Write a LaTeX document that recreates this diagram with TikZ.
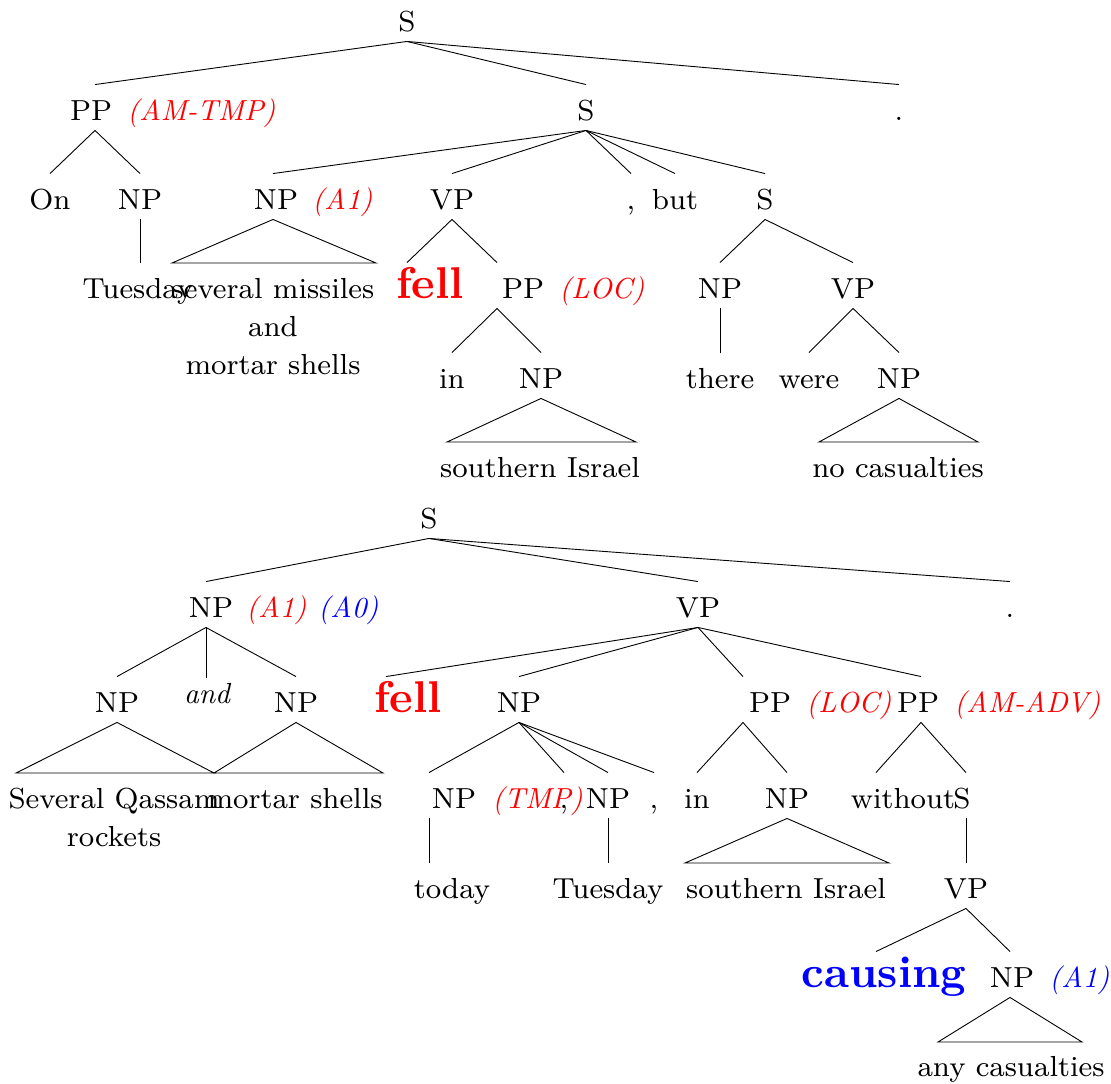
\documentclass[tikz,border=0pt]{standalone}
\usepackage{xcolor}
\usepackage{fontspec}
\setmainfont{lmroman8-regular.otf}[BoldFont=lmroman10-bold.otf,ItalicFont=lmroman10-italic.otf,BoldItalicFont=lmroman10-bolditalic.otf]
\newcommand\sh[2]{\makebox[0pt]{\hspace*{#1}\hspace*{#1}#2}}
\begin{document}
\begin{tikzpicture}[x=1pt,y=-1pt,line width=0.9pt,font=\fontsize{29}{38}\selectfont,
 tn/.style={anchor=base,inner sep=0pt,text height=35pt,text depth=10pt},
 lf/.style={anchor=base,inner sep=0pt},
 lab/.style={anchor=base west,inner sep=0pt,font=\fontsize{29}{38}\selectfont\itshape},
 big/.style={font=\fontsize{44.5}{50}\selectfont\bfseries}]
\useasboundingbox (0,0) rectangle (1111,1084);
% ---------- top tree ----------
\node[tn] (tS) at (407,31) {S};
\node[tn] (tPP) at (95,120) {\sh{-4pt}{PP}};
\node[lab,text=red] (tPPl) at (127,120) {(AM-TMP)};
\node[tn] (tS2) at (586,120) {S};
\node[tn] (tdot) at (899,120) {.};
\node[tn] (tOn) at (50,209) {On};
\node[tn] (tNPa) at (140,209) {NP};
\node[tn] (tTue) at (140,298) {\sh{-2pt}{Tuesday}};
\node[tn] (tNP1) at (273,209) {\sh{3pt}{NP}};
\node[lab,text=red] (tNP1l) at (312,209) {(A1)};
\node[lf] (tSM) at (273,298) {\begin{tabular}[t]{@{}c@{}}several missiles\\and\\mortar shells\end{tabular}};
\node[tn] (tVP) at (452,209) {VP};
\node[tn,big,text=red] (tfell) at (407,298) {\sh{23pt}{fell}};
\node[tn] (tPPb) at (497,298) {\sh{26pt}{PP}};
\node[lab,text=red] (tPPbl) at (559,298) {(LOC)};
\node[tn] (tin) at (452,388) {in};
\node[tn] (tNPb) at (541,388) {NP};
\node[lf] (tSI) at (540,477) {southern Israel};
\node[tn] (tcomma) at (631,209) {,};
\node[tn] (tbut) at (675,209) {but};
\node[tn] (tS3) at (765,209) {S};
\node[tn] (tNPc) at (720,298) {NP};
\node[tn] (tthere) at (720,388) {there};
\node[tn] (tVP2) at (853,298) {VP};
\node[tn] (twere) at (809,388) {were};
\node[tn] (tNPd) at (899,388) {NP};
\node[lf] (tNC) at (898,477) {no casualties};
\coordinate (tSMl) at (172,263); \coordinate (tSMr) at (376,263);
\coordinate (tSIl) at (447,442); \coordinate (tSIr) at (636,442);
\coordinate (tNCl) at (819,442); \coordinate (tNCr) at (978,442);
\foreach \a/\b in {tS/tPP,tS/tS2,tS/tdot,tPP/tOn,tPP/tNPa,tNPa/tTue,
  tS2/tNP1,tS2/tVP,tS2/tcomma,tS2/tbut,tS2/tS3,tVP/tfell,tVP/tPPb,
  tPPb/tin,tPPb/tNPb,tS3/tNPc,tS3/tVP2,tNPc/tthere,tVP2/twere,tVP2/tNPd}
  \draw (\a.south) -- (\b.north);
\draw (tNP1.south) -- (tSMl) -- (tSMr) -- cycle;
\draw (tNPb.south) -- (tSIl) -- (tSIr) -- cycle;
\draw (tNPd.south) -- (tNCl) -- (tNCr) -- cycle;
% ---------- bottom tree ----------
\node[tn] (bS) at (429,528) {S};
\node[tn] (bNP) at (206,617) {\sh{5pt}{NP}};
\node[lab,text=red] (bNPl1) at (246,617) {(A1)};
\node[lab,text=blue] (bNPl2) at (318,617) {(A0)};
\node[tn] (bVP) at (698,617) {VP};
\node[tn] (bdot) at (1010,617) {.};
\node[tn] (bNPa) at (117,712) {NP};
\node[tn,text height=25pt,font=\fontsize{29}{38}\selectfont\itshape] (band) at (206,703) {\sh{1pt}{and}};
\node[tn] (bNPb) at (296,712) {NP};
\node[lf] (bSQ) at (114,808) {\begin{tabular}[t]{@{}c@{}}Several Qassam\\rockets\end{tabular}};
\node[lf] (bMS) at (295,808) {mortar shells};
\node[tn,big,text=red] (bfell) at (386,712) {\sh{22pt}{fell}};
\node[tn] (bNPc) at (519,712) {NP};
\node[tn] (bNPt) at (429,808) {\sh{25pt}{NP}};
\node[lab,text=red] (bNPtl) at (492,808) {(TMP)};
\node[tn] (bcomma1) at (564,808) {,};
\node[tn] (bNPu) at (608,808) {NP};
\node[tn] (bcomma2) at (654,808) {,};
\node[tn] (btoday) at (429,898) {\sh{23pt}{today}};
\node[tn] (bTue) at (608,898) {Tuesday};
\node[tn] (bPPa) at (743,712) {\sh{27pt}{PP}};
\node[lab,text=red] (bPPal) at (806,712) {(LOC)};
\node[tn] (bPPb) at (921,712) {\sh{-3pt}{PP}};
\node[lab,text=red] (bPPbl) at (954,712) {(AM-ADV)};
\node[tn] (bin) at (697,808) {in};
\node[tn] (bNPd) at (787,808) {NP};
\node[lf] (bSI) at (786,898) {southern Israel};
\node[tn] (bwithout) at (876,808) {\sh{27pt}{without}};
\node[tn] (bS2) at (966,808) {\sh{-4pt}{S}};
\node[tn] (bVP2) at (966,898) {VP};
\node[tn,big,text=blue] (bcausing) at (876,987) {\sh{8pt}{causing}};
\node[tn] (bNPe) at (1010,987) {\sh{2pt}{NP}};
\node[lab,text=blue] (bNPel) at (1049,987) {(A1)};
\node[lf] (bAC) at (1011,1076) {any casualties};
\coordinate (bSQl) at (16,773); \coordinate (bSQr) at (214,773);
\coordinate (bMSl) at (214,773); \coordinate (bMSr) at (383,773);
\coordinate (bSIl) at (685,863); \coordinate (bSIr) at (889,863);
\coordinate (bACl) at (938,1042); \coordinate (bACr) at (1082,1042);
\foreach \a/\b in {bS/bNP,bS/bVP,bS/bdot,bNP/bNPa,bNP/band,bNP/bNPb,
  bVP/bfell,bVP/bNPc,bVP/bPPa,bVP/bPPb,bNPc/bNPt,bNPc/bcomma1,bNPc/bNPu,bNPc/bcomma2,
  bNPt/btoday,bNPu/bTue,bPPa/bin,bPPa/bNPd,bPPb/bwithout,bPPb/bS2,bS2/bVP2,
  bVP2/bcausing,bVP2/bNPe}
  \draw (\a.south) -- (\b.north);
\draw (bNPa.south) -- (bSQl) -- (bSQr) -- cycle;
\draw (bNPb.south) -- (bMSl) -- (bMSr) -- cycle;
\draw (bNPd.south) -- (bSIl) -- (bSIr) -- cycle;
\draw (bNPe.south) -- (bACl) -- (bACr) -- cycle;
\end{tikzpicture}
\end{document}
